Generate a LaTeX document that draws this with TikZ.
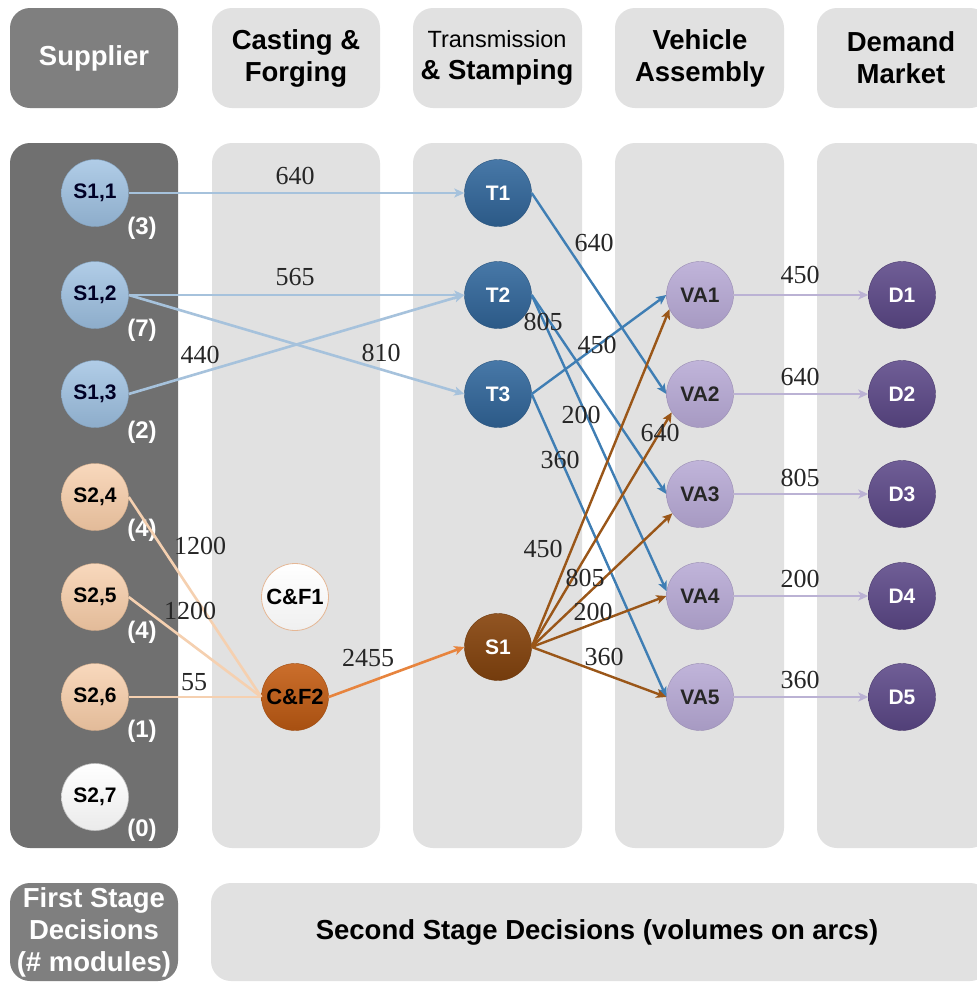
\documentclass[tikz,border=0pt]{standalone}
\usepackage{fontspec}
\setmainfont{Liberation Sans}
\newfontfamily\numfont{Liberation Serif}
\usetikzlibrary{arrows.meta}

% panel colours
\definecolor{panelDark}{HTML}{707070}
\definecolor{headDark}{HTML}{7F7F7F}
\definecolor{panelLight}{HTML}{E1E1E1}
% node colours
\definecolor{supA}{HTML}{9DC0E1}
\definecolor{supB}{HTML}{F6CBA6}
\definecolor{cfOrange}{HTML}{C55E14}
\definecolor{tBlue}{HTML}{33699E}
\definecolor{sBrown}{HTML}{88460F}
\definecolor{vaLilac}{HTML}{B5A7D3}
\definecolor{dPurple}{HTML}{5C4888}
% arc colours
\definecolor{arcSupA}{HTML}{A6C2DC}
\definecolor{arcSupB}{HTML}{F5D0B0}
\definecolor{arcT}{HTML}{3F7EB4}
\definecolor{arcCF}{HTML}{E7843E}
\definecolor{arcS}{HTML}{9A5618}
\definecolor{arcVA}{HTML}{BBB2D4}

\begin{document}
\begin{tikzpicture}[x=1pt,y=-1pt,
  panel/.style={rounded corners=20pt},
  headtxt/.style={align=center,font=\bfseries\fontsize{27.5}{32}\selectfont},
  circ/.style={circle,minimum size=67pt,inner sep=0pt,
    font=\bfseries\fontsize{21}{21}\selectfont},
  supone/.style={circ,top color=supA!80!white,bottom color=supA!90!black,draw=supA!85!black,line width=0.4pt,text=black!85!blue},
  suptwo/.style={circ,top color=supB!75!white,bottom color=supB!92!black,draw=supB!85!black,line width=0.4pt,text=black},
  blank/.style={circ,top color=white,bottom color=black!8,draw=black!25,line width=0.6pt,text=black},
  cfblank/.style={circ,top color=white,bottom color=black!6,draw=cfOrange!45,line width=0.8pt,text=black,
    font=\bfseries\fontsize{22}{22}\selectfont},
  cfnode/.style={circ,top color=cfOrange!90!white,bottom color=cfOrange!85!black,draw=cfOrange!80!black,line width=0.4pt,text=black,
    font=\bfseries\fontsize{22}{22}\selectfont},
  tnode/.style={circ,top color=tBlue!90!white,bottom color=tBlue!85!black,draw=tBlue!80!black,line width=0.4pt,text=white},
  snode/.style={circ,top color=sBrown!92!white,bottom color=sBrown!85!black,draw=sBrown!80!black,line width=0.4pt,text=white},
  vanode/.style={circ,top color=vaLilac!85!white,bottom color=vaLilac!92!black,draw=vaLilac!85!black,line width=0.4pt,text=black!85},
  dnode/.style={circ,top color=dPurple!88!white,bottom color=dPurple!88!black,draw=dPurple!80!black,line width=0.4pt,text=white},
  count/.style={text=white,font=\bfseries\fontsize{24}{24}\selectfont},
  vol/.style={font=\numfont\fontsize{26}{26}\selectfont,text=black!85,inner sep=0pt},
  tip/.style={-{Stealth[length=10pt,width=9pt,inset=2.5pt]}},
  arcsupA/.style={tip,draw=arcSupA,line width=2.6pt},
  arcsupB/.style={draw=arcSupB,line width=2.6pt},
  arct/.style={tip,draw=arcT,line width=2.4pt},
  arccf/.style={tip,draw=arcCF,line width=2.6pt},
  arcs/.style={tip,draw=arcS,line width=2.4pt},
  arcva/.style={tip,draw=arcVA,line width=2.6pt}
]
\useasboundingbox (0,0) rectangle (977,983);
\fill[white] (0,0) rectangle (977,983);

% ---------- column headers ----------
\fill[panel,headDark] (10,8) rectangle (178,108);
\fill[panel,panelLight] (212,8) rectangle (380,108);
\fill[panel,panelLight] (413,8) rectangle (582,108);
\fill[panel,panelLight] (615,8) rectangle (784,108);
\fill[panel,panelLight] (817,8) rectangle (990,108);

\node[headtxt,text=white] (hSup) at (94,58) {Supplier};
\node[headtxt] (hCF) at (296,58) {Casting \&\\Forging};
\node[headtxt] (hTS) at (497,58) {{\mdseries\fontsize{23.5}{28}\selectfont Transmission}\\\& Stamping};
\node[headtxt] (hVA) at (700,58) {Vehicle\\Assembly};
\node[headtxt] (hDM) at (901,58) {Demand\\Market};

% ---------- column bodies ----------
\fill[panel,panelDark] (10,143) rectangle (178,848);
\fill[panel,panelLight] (212,143) rectangle (380,848);
\fill[panel,panelLight] (413,143) rectangle (582,848);
\fill[panel,panelLight] (615,143) rectangle (784,848);
\fill[panel,panelLight] (817,143) rectangle (990,848);

% ---------- footer ----------
\fill[panel,headDark] (10,883) rectangle (178,981);
\fill[panel,panelLight] (211,883) rectangle (990,981);
\node[headtxt,text=white] (fFirst) at (94,932) {First Stage\\Decisions\\(\# modules)};
\node[headtxt] (fSecond) at (597,932) {Second Stage Decisions (volumes on arcs)};

% ---------- nodes ----------
\node[supone] (S11) at (95,193) {S1,1};
\node[supone] (S12) at (95,295) {S1,2};
\node[supone] (S13) at (95,394) {S1,3};
\node[suptwo] (S24) at (95,497) {S2,4};
\node[suptwo] (S25) at (95,597) {S2,5};
\node[suptwo] (S26) at (95,697) {S2,6};
\node[blank]  (S27) at (95,797) {S2,7};

\node[count] (n11) at (142,228) {(3)};
\node[count] (n12) at (142,330) {(7)};
\node[count] (n13) at (142,432) {(2)};
\node[count] (n24) at (142,530) {(4)};
\node[count] (n25) at (142,632) {(4)};
\node[count] (n26) at (142,731) {(1)};
\node[count] (n27) at (142,830) {(0)};

\node[cfblank] (CF1) at (295,597) {C\&F1};
\node[cfnode]  (CF2) at (295,697) {C\&F2};

\node[tnode] (T1) at (498,193) {T1};
\node[tnode] (T2) at (498,295) {T2};
\node[tnode] (T3) at (498,394) {T3};
\node[snode] (SS1) at (498,647) {S1};

\node[vanode] (VA1) at (700,295) {VA1};
\node[vanode] (VA2) at (700,394) {VA2};
\node[vanode] (VA3) at (700,494) {VA3};
\node[vanode] (VA4) at (700,596) {VA4};
\node[vanode] (VA5) at (700,697) {VA5};

\node[dnode] (D1) at (902,295) {D1};
\node[dnode] (D2) at (902,394) {D2};
\node[dnode] (D3) at (902,494) {D3};
\node[dnode] (D4) at (902,596) {D4};
\node[dnode] (D5) at (902,697) {D5};

% ---------- arcs ----------
\draw[arcsupA] (S11.east) -- (T1.west);
\draw[arcsupA] (S12.east) -- (T2.west);
\draw[arcsupA] (S12.east) -- (T3.west);
\draw[arcsupA] (S13.east) -- (T2.west);

\draw[arcsupB] (S24.east) -- (CF2.west);
\draw[arcsupB] (S25.east) -- (CF2.west);
\draw[arcsupB] (S26.east) -- (CF2.west);

\draw[arccf] (CF2.east) -- (SS1.west);

\draw[arct] (T1.east) -- (VA2.west);
\draw[arct] (T2.east) -- (VA3.west);
\draw[arct] (T2.east) -- (VA4.172);
\draw[arct] (T3.east) -- (VA1.west);
\draw[arct] (T3.east) -- (VA5.west);

\draw[arcs] (SS1.east) -- (VA1.205);
\draw[arcs] (SS1.east) -- (VA2.213);
\draw[arcs] (SS1.east) -- (VA3.215);
\draw[arcs] (SS1.east) -- (VA4.west);
\draw[arcs] (SS1.east) -- (VA5.west);

\draw[arcva] (VA1.east) -- (D1.west);
\draw[arcva] (VA2.east) -- (D2.west);
\draw[arcva] (VA3.east) -- (D3.west);
\draw[arcva] (VA4.east) -- (D4.west);
\draw[arcva] (VA5.east) -- (D5.west);

% ---------- arc volumes ----------
\node[vol] (v1) at (295,176) {640};
\node[vol] (v2) at (295,277) {565};
\node[vol] (v3) at (200,355) {440};
\node[vol] (v4) at (381,353) {810};
\node[vol] (v5) at (200,546) {1200};
\node[vol] (v6) at (190,611) {1200};
\node[vol] (v7) at (194,682) {55};
\node[vol] (v8) at (368,658) {2455};

\node[vol] (v9)  at (594,243) {640};
\node[vol] (v10) at (543,322) {805};
\node[vol] (v11) at (597,345) {450};
\node[vol] (v12) at (581,415) {200};
\node[vol] (v13) at (660,433) {640};
\node[vol] (v14) at (560,460) {360};
\node[vol] (v15) at (543,549) {450};
\node[vol] (v16) at (585,578) {805};
\node[vol] (v17) at (593,612) {200};
\node[vol] (v18) at (604,657) {360};

\node[vol] (v19) at (800,275) {450};
\node[vol] (v20) at (800,377) {640};
\node[vol] (v21) at (800,478) {805};
\node[vol] (v22) at (800,579) {200};
\node[vol] (v23) at (800,680) {360};
\end{tikzpicture}
\end{document}
